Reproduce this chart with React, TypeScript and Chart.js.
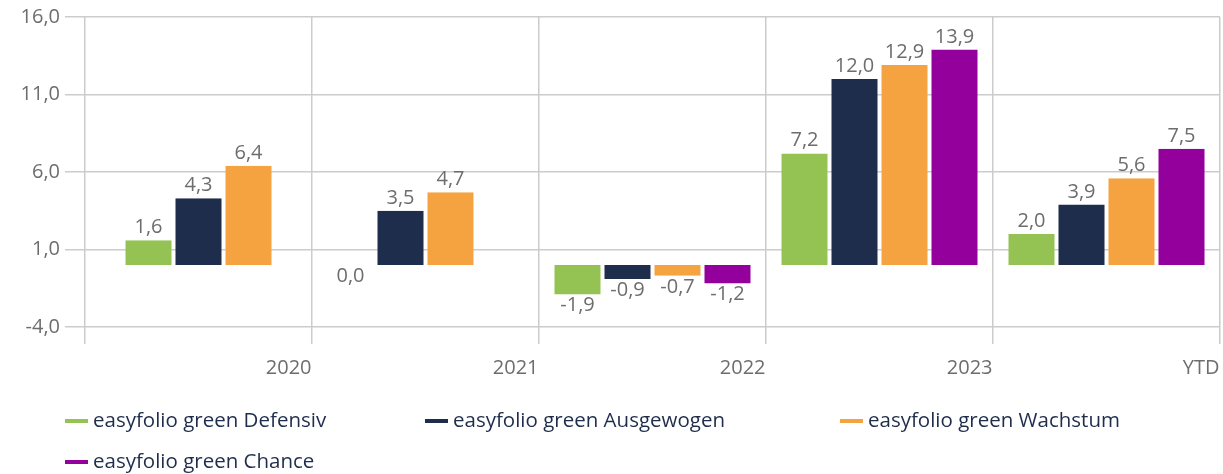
import React, { useEffect, useRef } from "react";
import { Chart, registerables } from "chart.js";

Chart.register(...registerables);

const categories = ["2020", "2021", "2022", "2023", "YTD"];
const seriesNames = [
  "easyfolio green Defensiv",
  "easyfolio green Ausgewogen",
  "easyfolio green Wachstum",
  "easyfolio green Chance",
];
const defensiv = [1.6, 0.0, -1.9, 7.2, 2.0];
const ausgewogen = [4.3, 3.5, -0.9, 12.0, 3.9];
const wachstum = [6.4, 4.7, -0.7, 12.9, 5.6];
const chance = [null, 0, -1.2, 13.9, 7.5];
// [datasetIndex, categoryIndex] of values whose label is not shown
const hiddenLabels = [[3, 1]];
const colors = ["#95c353", "#1f2d4d", "#f5a341", "#93009b"];
const yMin = -4;
const yMax = 16;
const yStep = 5;

const FONT = "'Open Sans', 'Noto Sans', sans-serif";
const fmt = (v: number) => v.toFixed(1).replace(".", ",");

const valueLabels = {
  id: "valueLabels",
  afterDatasetsDraw(chart: any) {
    const ctx = chart.ctx;
    ctx.save();
    ctx.font = `20px ${FONT}`;
    ctx.fillStyle = "#6d6d6d";
    ctx.textAlign = "center";
    chart.data.datasets.forEach((ds: any, di: number) => {
      const meta = chart.getDatasetMeta(di);
      meta.data.forEach((bar: any, i: number) => {
        const v = ds.data[i];
        if (v === null || v === undefined) return;
        if (hiddenLabels.some(([d, c]) => d === di && c === i)) return;
        if (v > 0) {
          ctx.textBaseline = "alphabetic";
          ctx.fillText(fmt(v), bar.x, bar.y - 7);
        } else {
          ctx.textBaseline = "top";
          ctx.fillText(fmt(v), bar.x, bar.y + 1);
        }
      });
    });
    ctx.restore();
  },
};

const customLegend = {
  id: "customLegend",
  afterDraw(chart: any) {
    const ctx = chart.ctx;
    const cols = [65, 425, 840];
    ctx.save();
    ctx.font = `20.5px ${FONT}`;
    ctx.textBaseline = "middle";
    ctx.textAlign = "left";
    chart.data.datasets.forEach((ds: any, i: number) => {
      const x = cols[i % 3];
      const y = 421 + Math.floor(i / 3) * 41;
      ctx.fillStyle = ds.backgroundColor;
      ctx.fillRect(x, y - 2, 23, 4);
      ctx.fillStyle = "#1f2d4d";
      ctx.fillText(ds.label, x + 28, y);
    });
    ctx.restore();
  },
};

export default function App() {
  const ref = useRef<HTMLCanvasElement>(null);
  useEffect(() => {
    if (!ref.current) return;
    const series = [defensiv, ausgewogen, wachstum, chance];
    const chart = new Chart(ref.current, {
      type: "bar",
      data: {
        labels: categories,
        datasets: series.map((d, i) => ({
          label: seriesNames[i],
          data: d,
          backgroundColor: colors[i],
          borderColor: "rgba(0,0,0,0)",
          borderWidth: { left: 2, right: 2, top: 0, bottom: 0 },
          borderSkipped: false,
          inflateAmount: 0,
          barThickness: 50,
          skipNull: true,
        })),
      },
      options: {
        animation: false,
        responsive: true,
        maintainAspectRatio: false,
        layout: { padding: { top: 9, right: 3, bottom: 95, left: 0 } },
        plugins: { legend: { display: false }, tooltip: { enabled: false } },
        scales: {
          x: {
            grid: { color: "#cccccc", lineWidth: 1.5, offset: true, tickLength: 17 },
            border: { display: false },
            ticks: {
              color: "#6d6d6d",
              font: { family: FONT, size: 20 },
              align: "end",
              labelOffset: 113,
              padding: 12,
              maxRotation: 0,
            },
            afterFit: (s: any) => {
              s.height = 52;
            },
          },
          y: {
            min: yMin,
            max: yMax,
            grid: { color: "#cccccc", lineWidth: 1.5, tickLength: 20 },
            border: { display: false },
            ticks: {
              stepSize: yStep,
              color: "#6d6d6d",
              font: { family: FONT, size: 20 },
              padding: 5,
              callback: (v: any) => fmt(Number(v)),
            },
            afterFit: (s: any) => {
              s.width = 85;
            },
          },
        },
      },
      plugins: [valueLabels, customLegend],
    });
    return () => chart.destroy();
  }, []);
  return (
    <div style={{ position: "absolute", left: 0, top: 0, width: 1223, height: 474, background: "#fff" }}>
      <canvas ref={ref} />
    </div>
  );
}
